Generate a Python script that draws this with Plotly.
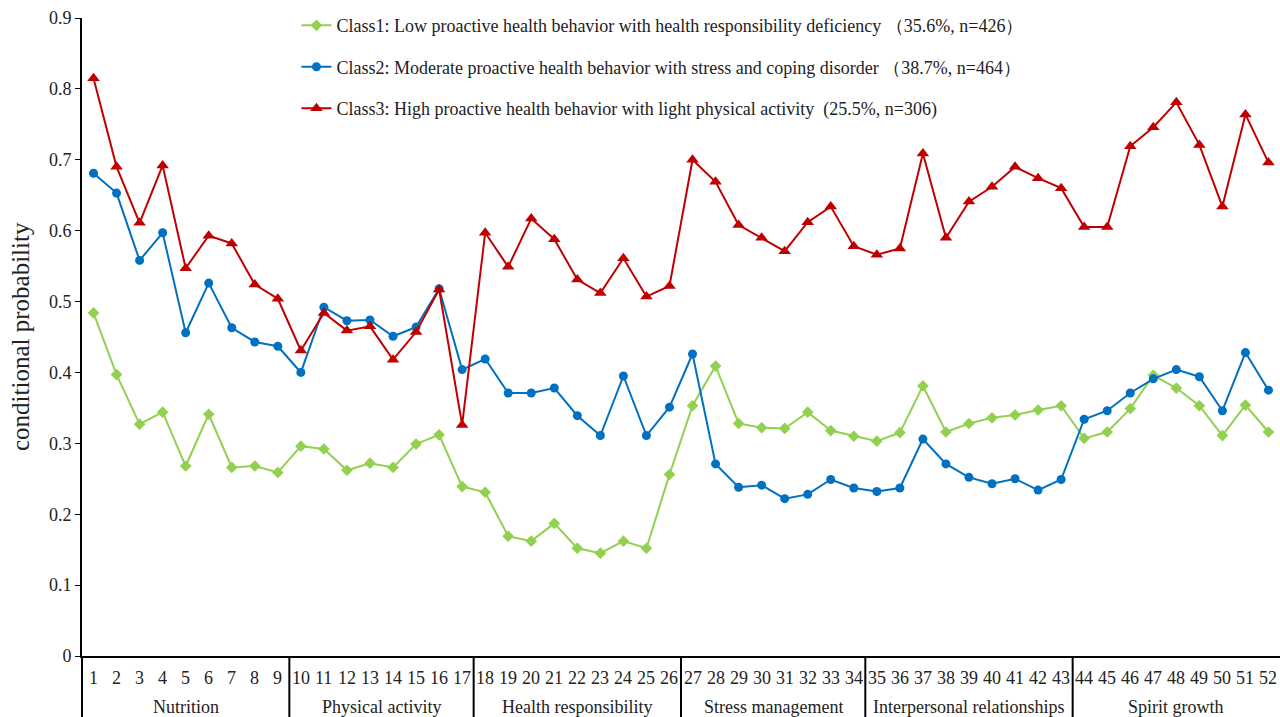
import plotly.graph_objects as go

items = list(range(1, 53))

class1 = [0.484, 0.397, 0.327, 0.344, 0.268, 0.341, 0.266, 0.268, 0.259,
          0.296, 0.292, 0.262, 0.272, 0.266, 0.299, 0.312, 0.239,
          0.231, 0.169, 0.162, 0.187, 0.152, 0.145, 0.162, 0.152, 0.256,
          0.353, 0.409, 0.328, 0.322, 0.321, 0.344, 0.318, 0.310,
          0.303, 0.315, 0.381, 0.316, 0.328, 0.336, 0.340, 0.347, 0.353,
          0.307, 0.316, 0.349, 0.396, 0.378, 0.353, 0.311, 0.354, 0.316]

class2 = [0.681, 0.653, 0.558, 0.597, 0.456, 0.526, 0.463, 0.443, 0.437,
          0.400, 0.492, 0.473, 0.474, 0.451, 0.464, 0.518, 0.404,
          0.419, 0.371, 0.371, 0.378, 0.339, 0.311, 0.395, 0.311, 0.351,
          0.426, 0.271, 0.238, 0.241, 0.222, 0.228, 0.249, 0.237,
          0.232, 0.237, 0.306, 0.271, 0.252, 0.243, 0.250, 0.234, 0.249,
          0.334, 0.346, 0.371, 0.391, 0.404, 0.394, 0.346, 0.428, 0.375]

class3 = [0.815, 0.690, 0.611, 0.692, 0.547, 0.593, 0.582, 0.524, 0.504,
          0.431, 0.484, 0.459, 0.465, 0.418, 0.457, 0.517, 0.326,
          0.597, 0.549, 0.617, 0.588, 0.531, 0.512, 0.561, 0.507, 0.522,
          0.700, 0.669, 0.608, 0.590, 0.571, 0.612, 0.634, 0.578,
          0.566, 0.575, 0.709, 0.590, 0.641, 0.662, 0.690, 0.674, 0.660,
          0.605, 0.605, 0.719, 0.746, 0.781, 0.721, 0.634, 0.764, 0.696]

y_ticks = [0, 0.1, 0.2, 0.3, 0.4, 0.5, 0.6, 0.7, 0.8, 0.9]
y_tick_labels = ["0", "0.1", "0.2", "0.3", "0.4", "0.5", "0.6", "0.7", "0.8", "0.9"]

group_names = ["Nutrition", "Physical activity", "Health responsibility",
               "Stress management", "Interpersonal relationships", "Spirit growth"]
group_ends = [9, 17, 26, 34, 43, 52]

names = [
    "Class1: Low proactive health behavior with health responsibility deficiency （35.6%, n=426）",
    "Class2: Moderate proactive health behavior with stress and coping disorder （38.7%, n=464）",
    "Class3: High proactive health behavior with light physical activity  (25.5%, n=306)",
]

FONT = "Times New Roman, Liberation Serif, serif"
TXT = "#222222"

fig = go.Figure()
fig.add_trace(go.Scatter(x=items, y=class1, mode="lines+markers", name=names[0],
                         legendgroup="c1",
                         line=dict(color="#92D050", width=2),
                         marker=dict(symbol="diamond", size=9, color="#92D050")))
fig.add_trace(go.Scatter(x=items, y=class2, mode="lines+markers", name=names[1],
                         legendgroup="c2",
                         line=dict(color="#0070C0", width=2),
                         marker=dict(symbol="circle", size=9, color="#0070C0")))
fig.add_trace(go.Scatter(x=items, y=class3, mode="lines+markers", name=names[2],
                         legendgroup="c3",
                         line=dict(color="#C00000", width=2),
                         marker=dict(symbol="triangle-up", size=11, color="#C00000")))

bottom = -61 / 638

# item number labels
for i in items:
    fig.add_annotation(x=i, y=-22 / 638, xref="x", yref="paper", text=str(i),
                       showarrow=False, font=dict(family=FONT, size=18, color=TXT),
                       yanchor="middle")

# group labels and separators
start = 0
for name, end in zip(group_names, group_ends):
    fig.add_annotation(x=(start + 1 + end) / 2, y=-51 / 638, xref="x", yref="paper",
                       text=name, showarrow=False,
                       font=dict(family=FONT, size=18, color=TXT), yanchor="middle")
    if end != 52:
        fig.add_shape(type="line", xref="x", yref="paper", x0=end + 0.5, x1=end + 0.5,
                      y0=0, y1=bottom, line=dict(color="black", width=2))
    start = end

# left axis extension
fig.add_shape(type="line", xref="paper", yref="paper", x0=0, x1=0, y0=0, y1=bottom,
              line=dict(color="black", width=2))

# y-axis title
fig.add_annotation(x=-62 / 1198, y=0.5, xref="paper", yref="paper",
                   text="conditional probability", showarrow=False, textangle=-90,
                   xanchor="center", yanchor="middle",
                   font=dict(family=FONT, size=25, color=TXT))

fig.update_layout(
    width=1280, height=717,
    margin=dict(l=82, r=0, t=18, b=61),
    paper_bgcolor="white", plot_bgcolor="white",
    font=dict(family=FONT, size=18, color=TXT),
    showlegend=True,
    legend=dict(x=0.179, y=1.017, xanchor="left", yanchor="top",
                bgcolor="rgba(0,0,0,0)", traceorder="grouped",
                tracegroupgap=15, font=dict(family=FONT, size=18, color=TXT),
                itemwidth=30),
    xaxis=dict(range=[0.5, 52.5], showticklabels=False, ticks="", showgrid=False,
               zeroline=False, showline=True, linecolor="black", linewidth=2,
               automargin=False),
    yaxis=dict(range=[0, 0.9], tickvals=y_ticks, ticktext=y_tick_labels,
               showgrid=False, automargin=False,
               zeroline=False, showline=True, linecolor="black", linewidth=2,
               ticks="outside", ticklen=5, tickcolor="black",
               tickfont=dict(family=FONT, size=18, color=TXT)),
)

fig.write_html("out.html")
